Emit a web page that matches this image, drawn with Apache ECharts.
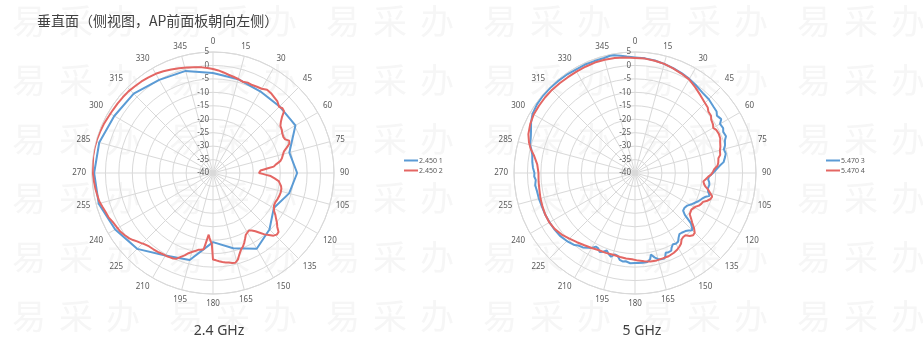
<!DOCTYPE html>
<html>
<head>
<meta charset="utf-8">
<script src="https://cdn.jsdelivr.net/npm/echarts@6/dist/echarts.min.js"></script>
<style>
html,body{margin:0;padding:0;background:#fff;}
#c{width:923px;height:357px;}
</style>
</head>
<body>
<div id="c"></div>
<script>
// ---- DATA ----
const angleTicks = [0,15,30,45,60,75,90,105,120,135,150,165,180,195,210,225,240,255,270,285,300,315,330,345];
const radiusTicks = [-40,-35,-30,-25,-20,-15,-10,-5,0,5];

const seriesNames24 = ['2.450 1', '2.450 2'];
const seriesNames5 = ['5.470 3', '5.470 4'];
const panelLabels = ['2.4 GHz', '5 GHz'];
const titleText = '垂直面（侧视图，AP前面板朝向左侧）';

// 2.4 GHz – series 1 (blue)
const blue24Ang = [0,15,30,45,60,75,90,105,120,135,150,165,180,195,210,225,240,255,270,285,300,315,330,345,360];
const blue24Val = [-2.8,-3.9,-4.9,-5.0,-4.6,-10.6,-8.7,-10.7,-13.9,-10.3,-7.5,-11.0,-14.3,-6.5,-4.6,-0.1,2.0,4.0,4.2,3.8,2.4,1.7,0.0,-0.7,-2.8];

// 2.4 GHz – series 2 (red)
const red24Ang = [0,3,6,9,12,15,18,21,24,27,30,33,36,39,42,45,47,49,51,53,55,58,60,63,65,67,69,71,73,76,78,80,82,84,85,86,87,89,90,91,92,93,95,97,99,101,103,106,109,112,115,118,120,122,124,126,128,130,132,134,136,138,140,142,144,146,148,150,152,154,156,158,160,162,164,166,168,170,172,174,176,178,180,181,182,183,184,185,186,187,189,191,193,195,197,199,201,203,205,207,209,211,213,215,218,221,224,226,228,230,232,235,238,241,244,247,250,253,256,259,262,266,270,274,278,282,286,290,294,298,302,306,310,314,318,322,326,330,334,338,342,346,350,354,357,360];
const red24Val = [-1.3,-1.8,-2.4,-3.0,-3.4,-3.8,-4.3,-4.0,-4.2,-4.0,-3.8,-3.1,-3.3,-3.8,-4.2,-5.2,-4.7,-5.0,-7.0,-8.4,-9.4,-9.8,-10.3,-10.6,-10.4,-9.2,-9.6,-11.0,-12.4,-13.3,-13.8,-14.6,-16.2,-17.3,-19.5,-21.0,-22.3,-22.9,-22.9,-21.5,-20.2,-18.5,-17.0,-15.4,-14.8,-14.2,-13.9,-13.8,-13.9,-14.1,-14.4,-14.3,-13.8,-13.2,-12.0,-11.0,-9.8,-8.8,-7.2,-7.0,-7.6,-9.0,-10.2,-11.8,-13.2,-14.2,-14.8,-14.5,-14.0,-12.8,-11.5,-10.4,-9.6,-8.2,-6.5,-5.6,-5.8,-6.2,-6.4,-6.7,-7.1,-7.5,-7.8,-13.8,-14.6,-15.8,-17.0,-17.4,-13.5,-11.4,-11.1,-10.9,-10.2,-9.6,-8.8,-7.6,-6.6,-5.4,-4.9,-4.8,-4.6,-4.6,-4.4,-4.2,-4.0,-3.8,-3.2,-2.6,-2.0,-1.2,-0.5,0.2,0.8,1.1,1.5,2.2,2.5,3.0,3.6,3.8,4.1,4.4,4.7,4.8,5.0,5.0,4.9,4.7,4.5,4.2,4.0,3.9,3.8,3.7,3.4,3.2,2.9,2.6,2.1,1.5,1.0,0.4,-0.1,-0.5,-0.9,-1.3];

// 5 GHz – series 3 (blue)
const blue5Ang = [0,5,10,15,20,25,30,35,40,45,50,53,55,58,60,63,65,68,70,73,75,78,80,83,85,87,90,93,95,97,99,102,104,107,109,111,114,116,119,122,125,128,130,131,132,134,135,137,139,142,144,146,148,150,152,154,155,157,159,160,161,163,165,167,169,170,172,175,178,180,183,186,188,190,192,194,196,198,200,202,204,206,208,210,212,215,218,220,225,230,235,240,245,250,255,260,263,266,268,270,273,276,280,283,285,288,290,293,296,300,305,310,315,320,325,330,335,340,345,348,350,353,356,360];
const blue5Val = [3.0,2.8,2.5,2.0,1.5,1.0,0.4,-0.3,-1.0,-1.2,-1.8,-2.0,-2.8,-2.2,-3.5,-3.2,-3.8,-3.5,-4.4,-5.0,-5.8,-5.5,-6.0,-6.8,-8.3,-9.5,-11.0,-12.5,-12.7,-12.2,-12.0,-12.3,-12.0,-11.0,-12.5,-13.3,-14.2,-15.0,-16.0,-17.1,-17.5,-17.3,-15.8,-14.0,-12.0,-10.5,-9.9,-10.8,-11.4,-11.8,-11.9,-11.0,-9.8,-9.6,-10.0,-9.0,-8.1,-8.0,-8.2,-7.0,-6.4,-6.5,-6.8,-7.8,-9.1,-7.5,-6.6,-6.5,-6.5,-6.5,-6.4,-7.0,-6.8,-7.2,-8.6,-8.8,-7.6,-8.3,-9.3,-8.4,-7.8,-8.8,-9.0,-7.8,-7.2,-6.2,-5.8,-5.0,-4.2,-3.6,-3.4,-3.3,-3.2,-3.2,-3.0,-2.9,-2.6,-3.0,-2.5,-2.6,-2.0,-1.6,-1.2,-0.4,0.4,0.8,1.2,2.0,3.0,4.0,4.5,4.7,4.7,4.6,4.5,4.3,4.4,4.3,4.3,4.6,4.5,3.9,3.4,3.0];

// 5 GHz – series 4 (red)
const red5Ang = [0,5,10,15,20,25,30,35,40,45,48,50,53,55,58,60,62,65,68,70,73,75,78,80,83,85,87,89,91,93,95,97,99,101,103,105,107,109,111,113,115,117,119,121,123,125,127,129,131,133,135,137,139,141,143,145,147,149,151,154,158,162,166,170,174,178,182,186,190,195,200,205,210,215,220,225,230,235,240,245,250,255,260,265,270,275,280,283,286,290,295,300,305,310,315,320,325,330,335,340,345,350,355,360];
const red5Val = [2.8,2.7,2.4,2.0,1.4,0.8,0.2,-1.0,-2.2,-3.2,-3.6,-4.4,-4.6,-5.4,-5.8,-6.4,-5.8,-5.6,-5.8,-6.3,-6.8,-7.3,-7.6,-8.5,-8.8,-9.2,-10.4,-11.0,-11.6,-12.8,-13.6,-14.4,-14.0,-13.3,-12.0,-11.0,-10.0,-10.3,-11.2,-12.5,-12.8,-13.3,-14.2,-14.6,-15.0,-15.0,-14.5,-13.2,-11.8,-10.0,-8.6,-8.3,-9.0,-10.2,-10.2,-9.8,-8.6,-8.0,-7.5,-7.0,-6.6,-6.6,-6.5,-6.6,-7.0,-7.4,-7.9,-8.0,-8.3,-8.5,-8.4,-8.3,-7.8,-7.2,-6.4,-5.5,-4.4,-3.6,-3.2,-3.2,-3.4,-3.6,-3.9,-4.0,-4.1,-3.5,-1.8,-0.2,1.0,2.2,3.0,3.5,3.6,3.7,3.7,3.6,3.5,3.5,3.6,3.7,3.6,3.4,3.1,2.8];

// ---- CHART ----
const BLUE = '#5B9BD5', RED = '#E46663';
const GRID = '#d9d9d9', LABEL = '#595959';
const FONT = '"Noto Sans", "Liberation Sans", sans-serif';

function pairs(vals, angs) { return vals.map((v, i) => [v, angs[i]]); }

const centers = [[213, 173], [635, 173]];
const R = 121;

const polar = [], angleAxis = [], radiusAxis = [];
centers.forEach((c, i) => {
  polar.push({ center: c, radius: R });
  angleAxis.push({
    polarIndex: i, type: 'value', min: 0, max: 360, interval: 15,
    startAngle: 90, clockwise: true,
    axisLine: { show: true, lineStyle: { color: GRID, width: 1 } },
    axisTick: { show: false },
    axisLabel: { fontSize: 8, color: LABEL, fontFamily: FONT, margin: 6,
      formatter: v => (angleTicks.indexOf(v) >= 0 ? String(v) : '') },
    splitLine: { show: true, lineStyle: { color: GRID, width: 1 } }
  });
  radiusAxis.push({
    polarIndex: i, type: 'value', min: radiusTicks[0], max: radiusTicks[radiusTicks.length - 1], interval: 5,
    axisLine: { show: false }, axisTick: { show: false },
    axisLabel: { fontSize: 8, color: LABEL, fontFamily: FONT, margin: 4 },
    splitLine: { show: true, lineStyle: { color: GRID, width: 1 } }
  });
});

// watermark (decoration)
const wm = [];
const wmChars = ['易', '采', '办'];
[23, 82, 141, 200, 259, 318].forEach(y => {
  for (let g = 0; g < 6; g++) {
    for (let k = 0; k < 3; k++) {
      wm.push({ type: 'text', left: 20 + g * 157 + k * 47 - 8, top: y - 19, z: -10, silent: true,
        style: { text: wmChars[k], fontSize: 34, fill: '#f6f6f6', fontFamily: '"Noto Sans CJK SC"' } });
    }
  }
});

const texts = [
  { type: 'text', left: 37, top: 14, z: 10,
    style: { text: titleText, fontSize: 14, fill: '#404040', fontFamily: '"Noto Sans CJK SC"' } },
  { type: 'text', x: 219, y: 331, z: 10,
    style: { text: panelLabels[0], fontSize: 14, fill: '#404040', fontFamily: FONT, textAlign: 'center', textVerticalAlign: 'middle' } },
  { type: 'text', x: 642, y: 331, z: 10,
    style: { text: panelLabels[1], fontSize: 14, fill: '#404040', fontFamily: FONT, textAlign: 'center', textVerticalAlign: 'middle' } }
];

const lineSeries = (name, pi, vals, angs, color) => ({
  name, type: 'line', coordinateSystem: 'polar', polarIndex: pi,
  data: pairs(vals, angs), symbol: 'none', smooth: false,
  lineStyle: { color, width: 2 }, itemStyle: { color }, animation: false
});

const legendBase = {
  orient: 'vertical', itemWidth: 14, itemHeight: 2, itemGap: 3, padding: 0,
  textStyle: { fontSize: 7, color: LABEL, fontFamily: FONT, padding: [0, 0, 0, -4] },
  icon: 'rect', selectedMode: false
};

const chart = echarts.init(document.getElementById('c'), null, { renderer: 'canvas' });
chart.setOption({
  backgroundColor: '#fff',
  animation: false,
  polar, angleAxis, radiusAxis,
  legend: [
    Object.assign({}, legendBase, { data: seriesNames24, left: 404, top: 157 }),
    Object.assign({}, legendBase, { data: seriesNames5, left: 826, top: 157 })
  ],
  graphic: wm.concat(texts),
  series: [
    lineSeries(seriesNames24[0], 0, blue24Val, blue24Ang, BLUE),
    lineSeries(seriesNames24[1], 0, red24Val, red24Ang, RED),
    lineSeries(seriesNames5[0], 1, blue5Val, blue5Ang, BLUE),
    lineSeries(seriesNames5[1], 1, red5Val, red5Ang, RED)
  ]
});
</script>
</body>
</html>
